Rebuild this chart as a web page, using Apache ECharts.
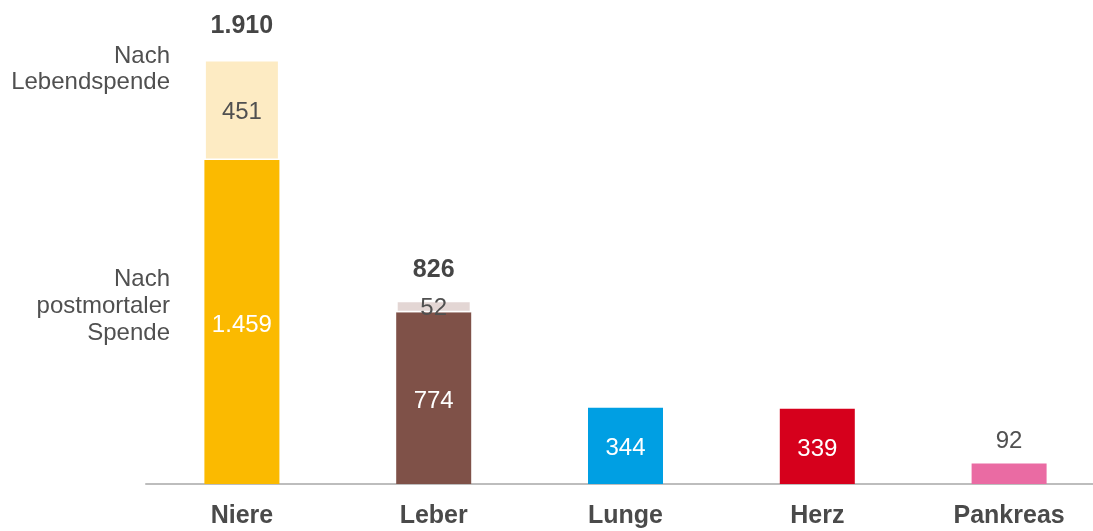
<!DOCTYPE html>
<html>
<head>
<meta charset="utf-8">
<script src="https://cdn.jsdelivr.net/npm/echarts@6/dist/echarts.min.js"></script>
<style>
html, body { margin: 0; padding: 0; background: #fff; }
#chart { width: 1093px; height: 531px; }
</style>
</head>
<body>
<div id="chart"></div>
<script>
var organs = ['Niere', 'Leber', 'Lunge', 'Herz', 'Pankreas'];
var postmortal = [1459, 774, 344, 339, 92];
var lebend = [451, 52, null, null, null];
var totals = [1910, 826, null, null, null];
var colorsPost = ['#FBBA00', '#7F5148', '#009FE3', '#D6001C', '#EA6BA3'];
var colorsLebend = ['#FDEBC3', '#E3D6D4', null, null, null];

function fmt(v) {
  return String(v).replace(/\B(?=(\d{3})+(?!\d))/g, '.');
}

var font = 'Liberation Sans, Arial, sans-serif';
var grey = '#505050';

var myChart = echarts.init(document.getElementById('chart'));

var option = {
  animation: false,
  grid: { left: 146, width: 959, top: 40, bottom: 47, containLabel: false, outerBoundsMode: 'none' },
  xAxis: {
    type: 'category',
    data: organs,
    axisTick: { show: false },
    axisLine: { lineStyle: { color: '#BDBDBD', width: 2 } },
    axisLabel: {
      margin: 20,
      fontSize: 25,
      fontWeight: 'bold',
      color: '#4A4A4A',
      fontFamily: font
    }
  },
  yAxis: {
    type: 'value',
    min: 0,
    max: 2000,
    show: false
  },
  graphic: [
    {
      type: 'text', x: 170, y: 43,
      style: { text: 'Nach\nLebendspende', fill: grey, font: '24px ' + font, align: 'right', verticalAlign: 'top', lineHeight: 26 }
    },
    {
      type: 'text', x: 170, y: 266,
      style: { text: 'Nach\npostmortaler\nSpende', fill: grey, font: '24px ' + font, align: 'right', verticalAlign: 'top', lineHeight: 27 }
    }
  ],
  series: [
    {
      name: 'Nach postmortaler Spende',
      type: 'bar',
      stack: 'all',
      barWidth: 75,
      data: postmortal.map(function (v, i) {
        var item = { value: v, itemStyle: { color: colorsPost[i] } };
        if (i === 4) {
          item.label = { position: 'top', distance: 10, offset: [0, 0], color: grey };
        }
        return item;
      }),
      label: {
        show: true,
        position: 'inside',
        offset: [0, 3],
        color: '#fff',
        fontSize: 24,
        fontFamily: font,
        formatter: function (p) { return fmt(p.value); }
      }
    },
    {
      name: 'Nach Lebendspende',
      type: 'bar',
      stack: 'all',
      barWidth: 75,
      data: lebend.map(function (v, i) {
        return { value: v, itemStyle: { color: colorsLebend[i] || 'transparent', borderColor: '#fff', borderWidth: 1.5 } };
      }),
      label: {
        show: true,
        position: 'inside',
        offset: [0, 2],
        color: grey,
        fontSize: 24,
        fontFamily: font,
        formatter: function (p) { return p.value == null ? '' : fmt(p.value); }
      }
    },
    {
      name: 'Gesamt',
      type: 'bar',
      stack: 'all',
      barWidth: 75,
      data: totals.map(function (v, i) {
        return v == null ? null : { value: 0, label: { distance: i === 0 ? 21 : 18 } };
      }),
      itemStyle: { color: 'transparent' },
      label: {
        show: true,
        position: 'top',
        color: '#454545',
        fontSize: 25,
        fontWeight: 'bold',
        fontFamily: font,
        formatter: function (p) {
          var t = totals[p.dataIndex];
          return t == null ? '' : fmt(t);
        }
      }
    }
  ]
};

myChart.setOption(option);
</script>
</body>
</html>
